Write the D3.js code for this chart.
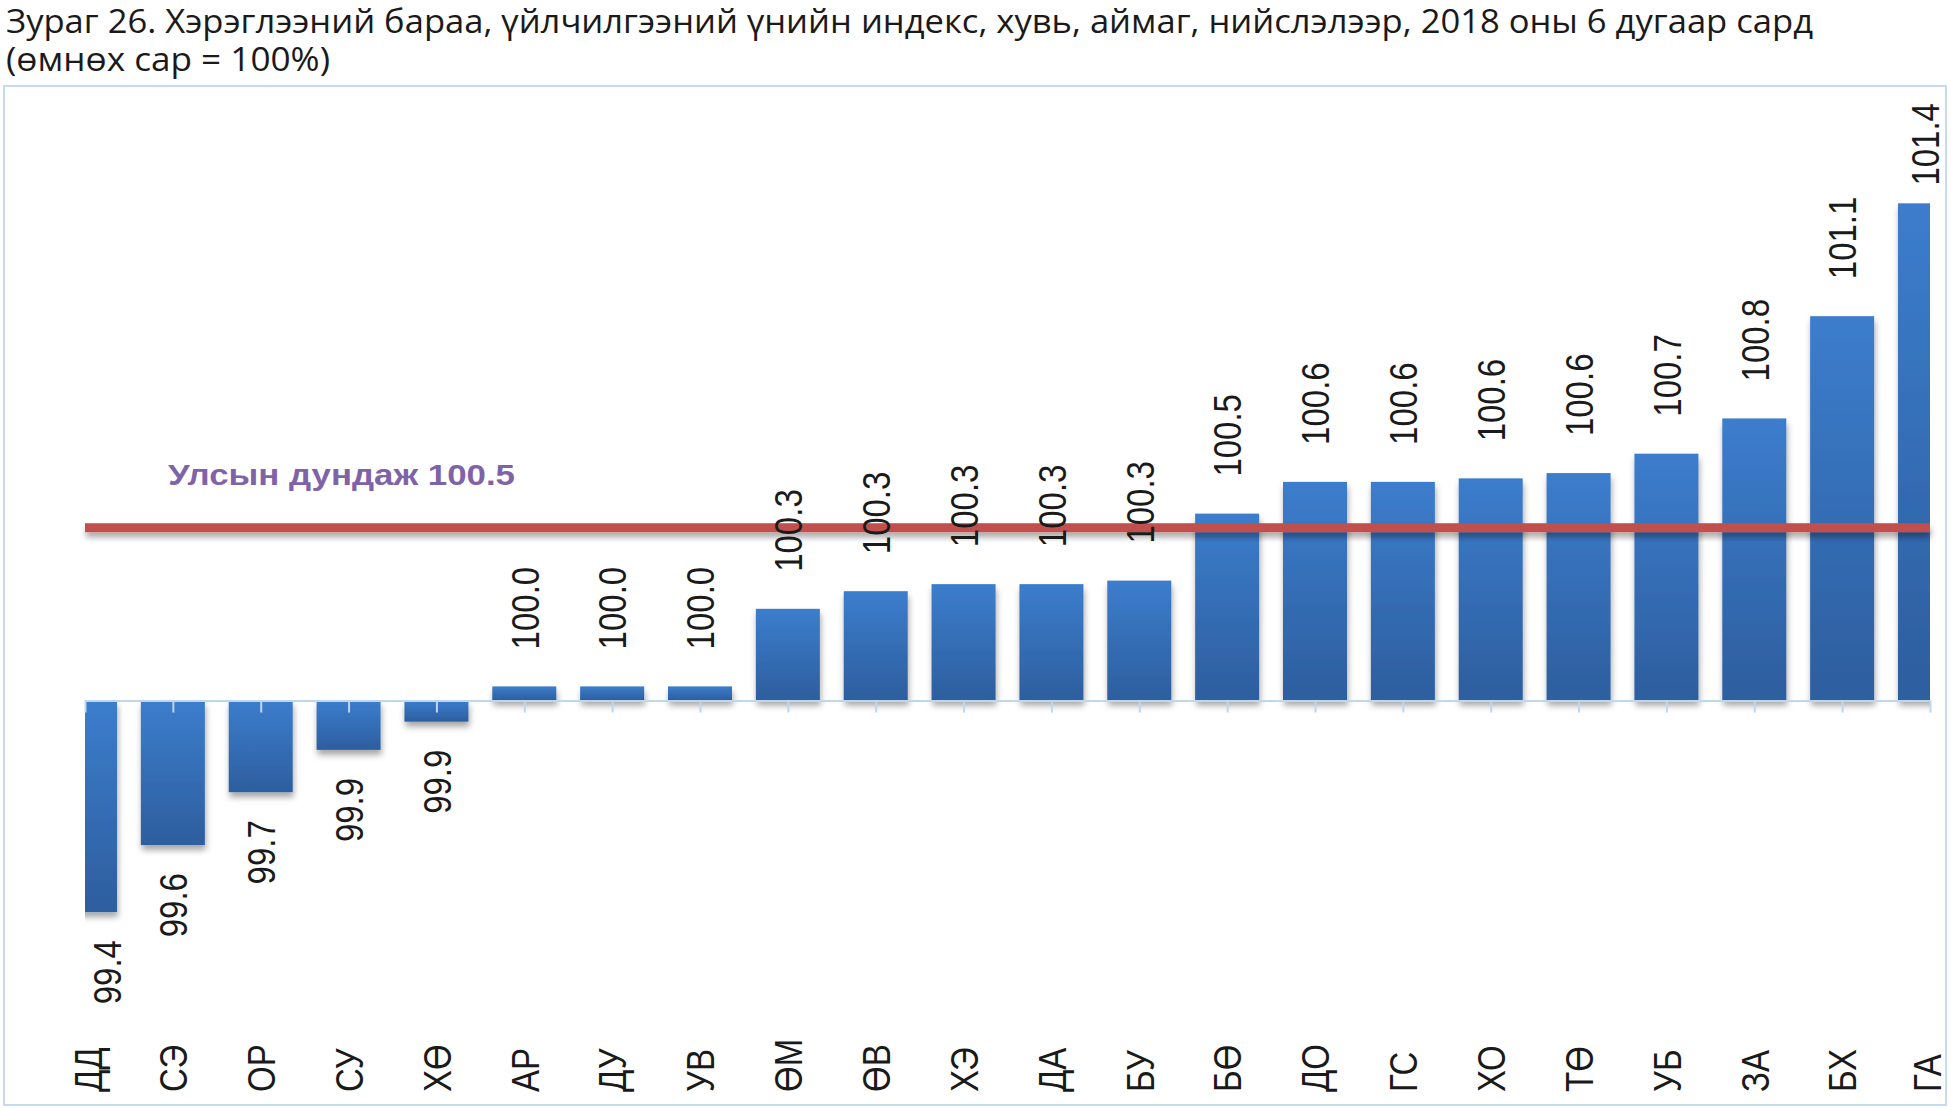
<!DOCTYPE html>
<html>
<head>
<meta charset="utf-8">
<script src="https://cdn.jsdelivr.net/npm/d3@7"></script>
<style>
    body { margin: 0; background: #fff; }
    svg { display: block; }
</style>
</head>
<body>
<svg width="1951" height="1108"></svg>
<script>
"use strict"

// аймаг, нийслэл
const categories = ["ДД", "СЭ", "ОР", "СУ", "ХӨ", "АР", "ДУ", "УВ", "ӨМ", "ӨВ", "ХЭ",
    "ДА", "БУ", "БӨ", "ДО", "ГС", "ХО", "ТӨ", "УБ", "ЗА", "БХ", "ГА"]

// үнийн индекс, өмнөх сар = 100
const values = [99.40, 99.59, 99.74, 99.86, 99.94, 100.04, 100.04, 100.04, 100.26, 100.31, 100.33,
    100.33, 100.34, 100.53, 100.62, 100.62, 100.63, 100.645, 100.70, 100.80, 101.09, 101.41]

const baseValue = 100
const avgValue = 100.49
const avgText = "Улсын дундаж"

const titleLines = [
    "Зураг 26. Хэрэглээний бараа, үйлчилгээний үнийн индекс, хувь, аймаг, нийслэлээр, 2018 оны 6 дугаар сард",
    "(өмнөх сар = 100%)"
]

const data = categories.map((c, i) => ({ label: c, value: values[i] }))

const svg = d3.select("svg")

const attr_area = {
    width: 1951,
    height: 1108,
    left: 85,
    right: 1930,
    boxX: 4,
    boxY: 86
}

function drawTitle() {
    const lens = [1807, 324]
    const ys = [33, 71]
    titleLines.forEach((t, i) => {
        svg.append("text")
            .attr("x", 6)
            .attr("y", ys[i])
            .attr("textLength", lens[i])
            .attr("lengthAdjust", "spacingAndGlyphs")
            .style("font-family", "'Open Sans', 'Noto Sans', sans-serif")
            .style("font-size", "32px")
            .style("fill", "#1a1a1a")
            .text(t)
    })
}

function drawChart() {
    // рамка
    svg.append("rect")
        .attr("x", attr_area.boxX)
        .attr("y", attr_area.boxY)
        .attr("width", attr_area.width - attr_area.boxX * 2 - 1)
        .attr("height", attr_area.height - attr_area.boxY - 3)
        .style("fill", "#fff")
        .style("stroke", "#C6DBF1")
        .style("stroke-width", 2)

    const defs = svg.append("defs")

    const grad = defs.append("linearGradient")
        .attr("id", "barGrad")
        .attr("x1", 0).attr("y1", 0).attr("x2", 0).attr("y2", 1)
    grad.append("stop").attr("offset", "0%").attr("stop-color", "#3C7DCD")
    grad.append("stop").attr("offset", "100%").attr("stop-color", "#2D5E9E")

    const shadow = defs.append("filter")
        .attr("id", "shadow")
        .attr("x", "-20%").attr("y", "-50%")
        .attr("width", "140%").attr("height", "250%")
    shadow.append("feDropShadow")
        .attr("dx", 1).attr("dy", 5)
        .attr("stdDeviation", 3)
        .attr("flood-color", "#000")
        .attr("flood-opacity", 0.35)

    defs.append("clipPath")
        .attr("id", "plotClip")
        .append("rect")
        .attr("x", attr_area.left)
        .attr("y", 0)
        .attr("width", attr_area.right - attr_area.left)
        .attr("height", attr_area.height)

    // шкалууд
    const scX = d3.scalePoint()
        .domain(categories)
        .range([attr_area.left, attr_area.right])

    const scY = d3.scaleLinear()
        .domain([99, 101.5])
        .range([1053.1, 171.6])

    const barW = 64

    // баганууд
    svg.append("g")
        .attr("clip-path", "url(#plotClip)")
        .selectAll("rect")
        .data(data)
        .enter()
        .append("rect")
        .attr("x", d => scX(d.label) - barW / 2)
        .attr("y", d => Math.min(scY(d.value), scY(baseValue)))
        .attr("width", barW)
        .attr("height", d => Math.abs(scY(d.value) - scY(baseValue)))
        .style("fill", "url(#barGrad)")
        .attr("filter", "url(#shadow)")

    // хэвтээ тэнхлэг
    const axisX = d3.axisBottom(scX)
        .tickSize(12)
        .tickSizeOuter(0)
        .tickFormat(() => "")
    const gAxis = svg.append("g")
        .attr("transform", `translate(0, ${scY(baseValue)})`)
        .call(axisX)
    gAxis.select(".domain").style("stroke", "#BDD7EE").style("stroke-width", 2)
    gAxis.selectAll(".tick line").style("stroke", "#BDD7EE").style("stroke-width", 2)

    // улсын дундаж (зузаан шугам - тэгш өнцөгтөөр, сүүдэртэй)
    const lineW = 9
    svg.append("rect")
        .attr("x", attr_area.left)
        .attr("width", attr_area.right - attr_area.left)
        .attr("y", scY(avgValue) - lineW / 2)
        .attr("height", lineW)
        .style("fill", "#C0504D")
        .attr("filter", "url(#shadow)")

    svg.append("text")
        .attr("x", 168)
        .attr("y", scY(avgValue) - 43)
        .attr("textLength", 347)
        .attr("lengthAdjust", "spacingAndGlyphs")
        .style("font-family", "'Liberation Sans', Arial, sans-serif")
        .style("font-weight", "bold")
        .style("font-size", "30px")
        .style("fill", "#7F63A8")
        .text(`${avgText} ${avgValue.toFixed(1)}`)

    // утгын шошго
    const labelX = d => Math.max(attr_area.left + 22, Math.min(attr_area.right - 5, scX(d.label)))
    const labels = svg.append("g")
        .selectAll("text")
        .data(data)
        .enter()
        .append("text")
        .style("font-family", "'Liberation Sans', Arial, sans-serif")
        .style("font-size", "33px")
        .style("fill", "#1a1a1a")
        .attr("dy", "0.36em")
        .text(d => d.value.toFixed(1))

    labels.each(function(d) {
        const len = this.getComputedTextLength()
        let y, anchor
        if (d.value >= baseValue) {
            y = Math.max(scY(d.value) - 37, attr_area.boxY + 17 + len)
            anchor = "start"
        } else {
            y = scY(d.value) + 28
            anchor = "end"
        }
        d3.select(this)
            .style("text-anchor", anchor)
            .attr("transform", `translate(${labelX(d)}, ${y}) rotate(-90) scale(1, 1.2)`)
    })

    // ангиллын нэрс
    const catX = d => Math.max(attr_area.left + 3, Math.min(attr_area.right - 3, scX(d.label)))
    svg.append("g")
        .selectAll("text")
        .data(data)
        .enter()
        .append("text")
        .style("font-family", "'Liberation Sans', Arial, sans-serif")
        .style("font-size", "33px")
        .style("fill", "#1a1a1a")
        .style("text-anchor", "start")
        .attr("dy", "0.36em")
        .attr("transform", d => `translate(${catX(d)}, 1092) rotate(-90) scale(1, 1.2)`)
        .text(d => d.label)
}

drawTitle()
drawChart()
</script>
</body>
</html>
